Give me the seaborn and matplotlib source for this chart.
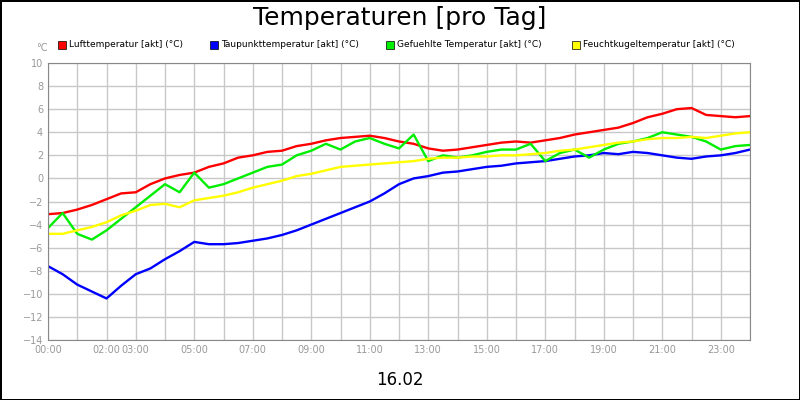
import numpy as np
import pandas as pd
import matplotlib
matplotlib.use("Agg")
import matplotlib.pyplot as plt
import seaborn as sns

hours = [i * 0.5 for i in range(49)]
luft = [-3.1,-3,-2.7,-2.3,-1.8,-1.3,-1.2,-0.5,0,0.3,0.5,1,1.3,1.8,2.0,2.3,2.4,2.8,3,3.3,3.5,3.6,3.7,3.5,3.2,3,2.6,2.4,2.5,2.7,2.9,3.1,3.2,3.1,3.3,3.5,3.8,4,4.2,4.4,4.8,5.3,5.6,6,6.1,5.5,5.4,5.3,5.4]
taupunkt = [-7.6,-8.3,-9.2,-9.8,-10.4,-9.3,-8.3,-7.8,-7,-6.3,-5.5,-5.7,-5.7,-5.6,-5.4,-5.2,-4.9,-4.5,-4.0,-3.5,-3.0,-2.5,-2,-1.3,-0.5,0,0.2,0.5,0.6,0.8,1.0,1.1,1.3,1.4,1.5,1.7,1.9,2,2.2,2.1,2.3,2.2,2,1.8,1.7,1.9,2,2.2,2.5]
gefuehlt = [-4.3,-3.0,-4.8,-5.3,-4.5,-3.5,-2.5,-1.5,-0.5,-1.2,0.5,-0.8,-0.5,0,0.5,1,1.2,2,2.4,3,2.5,3.2,3.5,3.0,2.6,3.8,1.5,2.0,1.8,2.0,2.3,2.5,2.5,3,1.5,2.2,2.5,1.8,2.5,3,3.2,3.5,4,3.8,3.6,3.2,2.5,2.8,2.9]
feucht = [-4.8,-4.8,-4.5,-4.2,-3.8,-3.2,-2.8,-2.3,-2.2,-2.5,-1.9,-1.7,-1.5,-1.2,-0.8,-0.5,-0.2,0.2,0.4,0.7,1.0,1.1,1.2,1.3,1.4,1.5,1.7,1.8,1.8,1.9,1.9,2.0,2.0,2.1,2.2,2.4,2.5,2.7,2.9,3.1,3.2,3.4,3.5,3.5,3.6,3.5,3.7,3.9,4.0]
names = ["Lufttemperatur [akt] (°C)", "Taupunkttemperatur [akt] (°C)",
         "Gefuehlte Temperatur [akt] (°C)", "Feuchtkugeltemperatur [akt] (°C)"]
colors = ["#ff0000", "#0000ff", "#00ee00", "#ffff00"]
tick_hours = [0, 2, 3, 5, 7, 9, 11, 13, 15, 17, 19, 21, 23]
tick_labels = [f"{h:02d}:00" for h in tick_hours]

df = pd.DataFrame({"h": hours, names[0]: luft, names[1]: taupunkt, names[2]: gefuehlt, names[3]: feucht})
long = df.melt("h", var_name="s", value_name="v")

fig = plt.figure(figsize=(8, 4), dpi=100)
fig.patch.set_edgecolor("black"); fig.patch.set_linewidth(2)
ax = fig.add_axes([0.06, 0.15, 0.8775, 0.6925])
ax.set_xlim(0, 24); ax.set_ylim(-14, 10)
ax.set_xticks(range(25))
ax.set_xticklabels(["" for _ in range(25)])
for h, l in zip(tick_hours, tick_labels):
    ax.text(h, -14.4, l, ha="center", va="top", fontsize=7, color="#999999")
ax.set_yticks(range(-14, 11, 2))
ax.grid(True, color="#c8c8c8", linewidth=1)
ax.set_axisbelow(True)
sns.lineplot(data=long, x="h", y="v", hue="s", palette=colors, ax=ax, linewidth=1.7, legend=False)
ax.set_xlabel(""); ax.set_ylabel("")
ax.tick_params(axis="y", labelsize=7, labelcolor="#999999", length=0)
ax.tick_params(axis="x", length=0)
for sp in ax.spines.values():
    sp.set_color("#888888")

fig.text(0.5, 0.955, "Temperaturen [pro Tag]", ha="center", va="center", fontsize=18)
fig.text(0.5, 0.05, "16.02", ha="center", va="center", fontsize=12)
fig.text(0.045, 0.88, "°C", ha="left", va="center", fontsize=7, color="#999999")
xs = [0.072, 0.262, 0.482, 0.715]
for x, n, c in zip(xs, names, colors):
    fig.patches.append(plt.Rectangle((x, 0.878), 0.01, 0.02, transform=fig.transFigure,
                                     facecolor=c, edgecolor="black", linewidth=0.5))
    fig.text(x + 0.014, 0.888, n, ha="left", va="center", fontsize=6.5)
fig.savefig("out.png", dpi=100)
